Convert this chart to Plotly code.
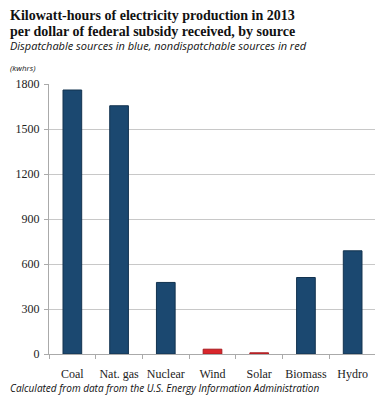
import plotly.graph_objects as go

sources = ["Coal", "Nat. gas", "Nuclear", "Wind", "Solar", "Biomass", "Hydro"]
kwh_per_dollar = [1760, 1655, 477, 32, 8, 510, 688]
dispatchable = [True, True, True, False, False, True, True]
y_ticks = [0, 300, 600, 900, 1200, 1500, 1800]

BLUE = "#1b4870"
RED = "#d9262b"
colors = [BLUE if d else RED for d in dispatchable]
line_colors = ["#12324f" if d else "#a81c20" for d in dispatchable]

fig = go.Figure(go.Bar(
    x=sources, y=kwh_per_dollar,
    marker=dict(color=colors, line=dict(color=line_colors, width=1)),
    width=0.40,
))

# page body adds an 8px offset, so the figure is sized to fill the rest
W, H = 375, 392
L, R, T, B = 41, 7, 76, 46
ph = H - T - B
pw = W - L - R

def py(p):
    return (H - B - p) / ph

serif = "Liberation Serif"
sans = "Open Sans"

ann = [
    dict(text="<b>Kilowatt-hours of electricity production in 2013</b>", y=py(7),
         font=dict(family=serif, size=14, color="#111")),
    dict(text="<b>per dollar of federal subsidy received, by source</b>", y=py(23),
         font=dict(family=serif, size=14, color="#111")),
    dict(text="<i>Dispatchable sources in blue, nondispatchable sources in red</i>", y=py(38),
         font=dict(family=sans, size=11, color="#111")),
    dict(text="<i>(kwhrs)</i>", y=py(59),
         font=dict(family=sans, size=8, color="#111")),
    dict(text="<i>Calculated from data from the U.S. Energy Information Administration</i>", y=py(380),
         font=dict(family=sans, size=10, color="#111")),
]
annotations = []
for a in ann:
    a.update(xref="paper", yref="paper", x=-(L - 0) / pw, xanchor="left",
             yanchor="middle", showarrow=False)
    annotations.append(a)

fig.update_layout(
    width=W, height=H,
    margin=dict(l=L, r=R, t=T, b=B, autoexpand=False),
    paper_bgcolor="white", plot_bgcolor="white",
    showlegend=False,
    annotations=annotations,
    font=dict(family=serif, size=12, color="#222"),
)
fig.update_xaxes(
    tickson="boundaries", ticks="outside", ticklen=4, tickcolor="#aaa",
    showline=True, linecolor="#aaa", linewidth=1, showgrid=False,
    tickfont=dict(family=serif, size=12, color="#222"),
    tickangle=0, automargin=False,
    ticklabelstandoff=9,
)
fig.update_yaxes(
    range=[0, 1800], tickvals=y_ticks, ticks="outside", ticklen=4, tickcolor="#aaa",
    showline=True, linecolor="#aaa", linewidth=1,
    showgrid=True, gridcolor="#c8c8c8", gridwidth=1, zeroline=False,
    tickfont=dict(family=serif, size=12, color="#222"),
    automargin=False,
    ticklabelstandoff=2,
)

fig.write_html("out.html")
